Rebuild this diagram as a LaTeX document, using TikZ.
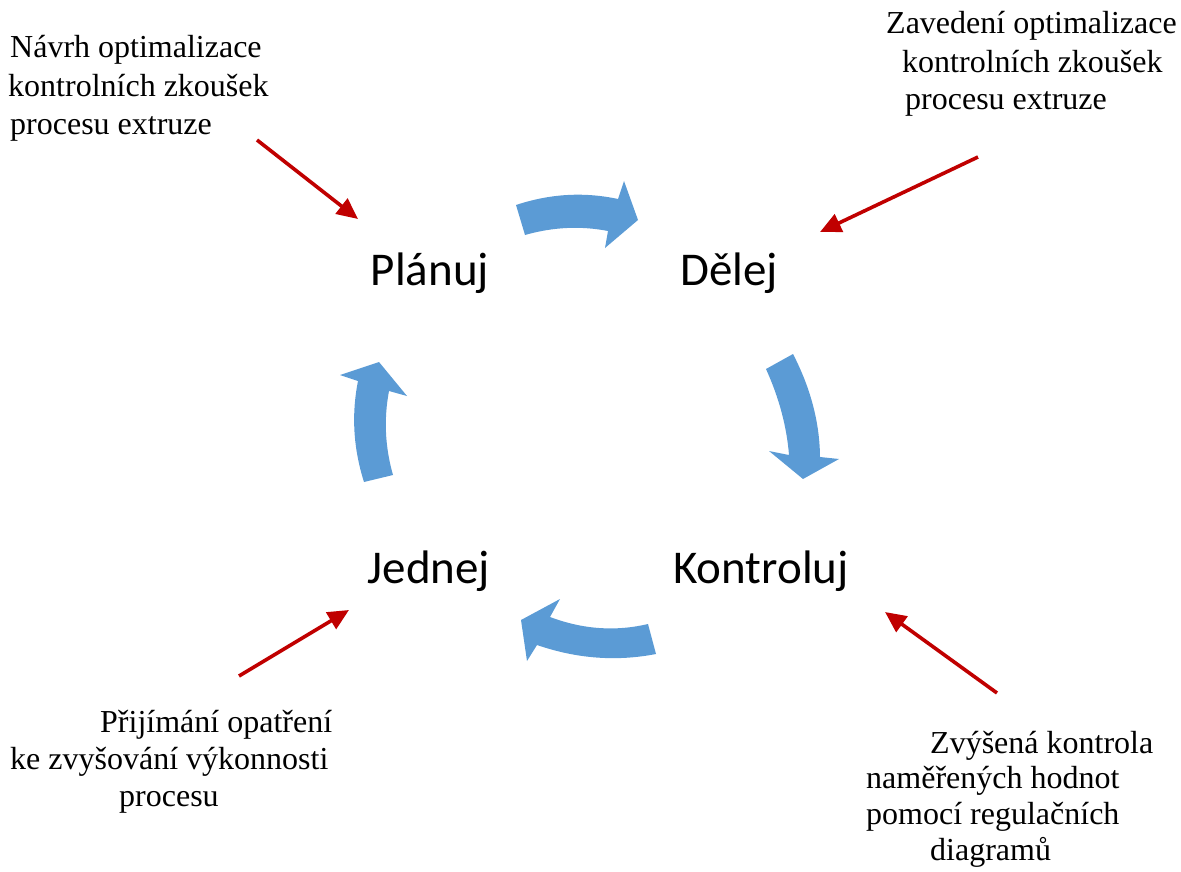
\documentclass[tikz,border=0pt]{standalone}
\usepackage{fontspec}
\setmainfont{Liberation Serif}
\newfontfamily\labelfont{Carlito}
\usetikzlibrary{arrows.meta}
\definecolor{cycleblue}{HTML}{5B9BD5}
\definecolor{notered}{HTML}{C00000}
\tikzset{
  phase/.style={font=\labelfont\fontsize{47}{56}\selectfont, anchor=base, inner sep=0pt},
  noteline/.style={font=\fontsize{32}{38}\selectfont, anchor=base west, inner sep=0pt},
  cyclearrow/.style={fill=cycleblue, draw=none},
  notearrow/.style={draw=notered, line width=3.6pt, -{Triangle[length=21pt,width=19pt]}},
}
\begin{document}
\begin{tikzpicture}[x=1pt,y=-1pt]
\useasboundingbox (0,0) rectangle (1181,872);

% phase labels
\node[phase] (plan) at (430,285) {Plánuj};
\node[phase] (do) at (729,285) {Dělej};
\node[phase] (check) at (761,583) {Kontroluj};
\node[phase] (act) at (429,583) {Jednej};

% blue cycle arrows
\fill[cyclearrow] (516,205) .. controls (550,193.7) and (584,191.7) .. (618,199) -- (624,181) -- (638,220) -- (605,248) -- (608,231) .. controls (580.7,225.7) and (553,227) .. (525,235) -- cycle;
\fill[cyclearrow] (793,354) .. controls (810.7,388.3) and (819.7,422.7) .. (820,457) -- (839,459) -- (803,479) -- (769,451) -- (789,455) .. controls (786.7,426.3) and (779,397.7) .. (766,369) -- cycle;
\fill[cyclearrow] (656,654) .. controls (616.3,661.7) and (576.7,658.7) .. (537,645) -- (527,661) -- (521,620) -- (560,599) -- (550,617) .. controls (582.7,629.3) and (615.3,631.7) .. (648,624) -- cycle;
\fill[cyclearrow] (364,482) .. controls (353.3,448.3) and (351.3,414.7) .. (358,381) -- (340,375) -- (379,362) -- (407,396) -- (389,391) .. controls (383.7,419) and (385,447) .. (393,475) -- cycle;

% notes
\node[noteline] (n1a) at (10,58) {Návrh optimalizace};
\node[noteline] (n1b) at (8,97) {kontrolních zkoušek};
\node[noteline] (n1c) at (10,135) {procesu extruze};

\node[noteline] (n2a) at (886,34) {Zavedení optimalizace};
\node[noteline] (n2b) at (902,73) {kontrolních zkoušek};
\node[noteline] (n2c) at (905,110) {procesu extruze};

\node[noteline] (n3a) at (100,732) {Přijímání opatření};
\node[noteline] (n3b) at (10,769) {ke zvyšování výkonnosti};
\node[noteline] (n3c) at (119,806) {procesu};

\node[noteline] (n4a) at (930,753) {Zvýšená kontrola};
\node[noteline] (n4b) at (866,788) {naměřených hodnot};
\node[noteline] (n4c) at (866,824) {pomocí regulačních};
\node[noteline] (n4d) at (930,860) {diagramů};

% red note arrows
\coordinate (s1) at (257,140); \coordinate (t1) at (358,219);
\coordinate (s2) at (978,157); \coordinate (t2) at (820,232);
\coordinate (s3) at (239,676); \coordinate (t3) at (349,610);
\coordinate (s4) at (997,693); \coordinate (t4) at (885,612);
\draw[notearrow] (s1) -- (t1);
\draw[notearrow] (s2) -- (t2);
\draw[notearrow] (s3) -- (t3);
\draw[notearrow] (s4) -- (t4);
\end{tikzpicture}
\end{document}
